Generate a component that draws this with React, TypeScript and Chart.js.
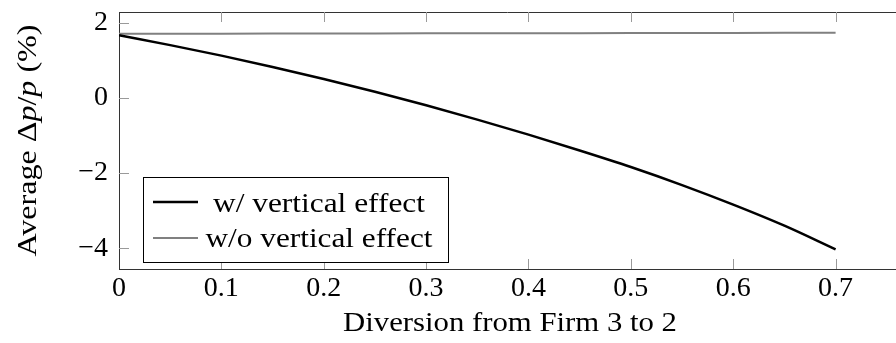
import React, { useEffect, useRef } from "react";
import { Chart, registerables } from "chart.js";

Chart.register(...registerables);

const diversion = [0, 0.05, 0.1, 0.15, 0.2, 0.25, 0.3, 0.35, 0.4, 0.45, 0.5, 0.55, 0.6, 0.65, 0.7];
const withVertical = [1.66, 1.4, 1.12, 0.82, 0.5, 0.16, -0.2, -0.58, -0.98, -1.4, -1.84, -2.32, -2.84, -3.4, -4.03];
const withoutVertical = [1.7, 1.702, 1.704, 1.706, 1.708, 1.71, 1.712, 1.714, 1.716, 1.718, 1.72, 1.722, 1.724, 1.726, 1.728];
const xTicks = [0, 0.1, 0.2, 0.3, 0.4, 0.5, 0.6, 0.7];
const yTicks = [-4, -2, 0, 2];
const seriesLabels = ["w/ vertical effect", "w/o vertical effect"];
const xTitle = "Diversion from Firm 3 to 2";

const FONT = "'Liberation Serif', 'DejaVu Serif', serif";

function drawFitted(ctx: CanvasRenderingContext2D, text: string, cx: number, base: number, target: number) {
  const w = ctx.measureText(text).width;
  const sx = target / w;
  ctx.save();
  ctx.translate(cx, base);
  ctx.scale(sx, 1);
  ctx.textAlign = "center";
  ctx.fillText(text, 0, 0);
  ctx.restore();
}

const decor = {
  id: "decor",
  afterDraw(chart: any) {
    const { ctx, chartArea, scales } = chart;
    const { left, top, right, bottom } = chartArea;
    const x = scales.x;
    const y = scales.y;
    ctx.save();
    // top border
    ctx.strokeStyle = "#333";
    ctx.lineWidth = 1;
    ctx.beginPath();
    ctx.moveTo(left, Math.round(top) + 0.5);
    ctx.lineTo(right, Math.round(top) + 0.5);
    ctx.stroke();
    // inward ticks
    ctx.strokeStyle = "#9a9a9a";
    ctx.beginPath();
    x.ticks.forEach((t: any) => {
      const px = Math.round(x.getPixelForValue(t.value)) + 0.5;
      if (t.value === 0) return;
      ctx.moveTo(px, bottom);
      ctx.lineTo(px, bottom - 10);
      ctx.moveTo(px, top);
      ctx.lineTo(px, top + 10);
    });
    y.ticks.forEach((t: any) => {
      const py = Math.round(y.getPixelForValue(t.value)) + 0.5;
      ctx.moveTo(left, py);
      ctx.lineTo(left + 10, py);
    });
    ctx.stroke();

    // legend
    const lx = 143.5, ly = 177.5, lw = 305, lh = 85;
    ctx.fillStyle = "#fff";
    ctx.fillRect(lx, ly, lw, lh);
    ctx.strokeStyle = "#000";
    ctx.lineWidth = 1;
    ctx.strokeRect(lx, ly, lw, lh);
    const ds = chart.data.datasets;
    const rows = [
      { yLine: 202, base: 211.7, width: 212 },
      { yLine: 238, base: 247, width: 227 },
    ];
    ctx.font = `28px ${FONT}`;
    ctx.textBaseline = "alphabetic";
    rows.forEach((r, i) => {
      ctx.strokeStyle = ds[i].borderColor;
      ctx.lineWidth = ds[i].borderWidth;
      ctx.beginPath();
      ctx.moveTo(153, r.yLine);
      ctx.lineTo(198, r.yLine);
      ctx.stroke();
      ctx.fillStyle = "#000";
      drawFitted(ctx, ds[i].label, 319, r.base, r.width);
    });

    // x title
    ctx.fillStyle = "#000";
    ctx.font = `28px ${FONT}`;
    drawFitted(ctx, xTitle, 510, 331, 334);

    // y title with italic p
    const segs = [
      { t: "Average ", it: false },
      { t: "\u0394", it: false },
      { t: "p", it: true },
      { t: "/", it: false },
      { t: "p", it: true },
      { t: " (%)", it: false },
    ];
    let total = 0;
    const widths = segs.map((s) => {
      ctx.font = `${s.it ? "italic " : ""}28px ${FONT}`;
      const w = ctx.measureText(s.t).width;
      total += w;
      return w;
    });
    const target = 232;
    const sx = target / total;
    ctx.translate(36, (top + bottom) / 2);
    ctx.rotate(-Math.PI / 2);
    ctx.scale(sx, 1);
    ctx.textAlign = "left";
    let cx = -total / 2;
    segs.forEach((s, i) => {
      ctx.font = `${s.it ? "italic " : ""}28px ${FONT}`;
      ctx.fillText(s.t, cx, 0);
      cx += widths[i];
    });
    ctx.restore();
  },
};

export default function App() {
  const ref = useRef<HTMLCanvasElement>(null);
  useEffect(() => {
    if (!ref.current) return;
    const fmt = (v: number) => (v < 0 ? "\u2212" + Math.abs(v) : String(v));
    const chart = new Chart(ref.current, {
      type: "line",
      data: {
        datasets: [
          {
            label: seriesLabels[0],
            data: diversion.map((d, i) => ({ x: d, y: withVertical[i] })),
            borderColor: "#000",
            borderWidth: 2.5,
            pointRadius: 0,
            cubicInterpolationMode: "monotone",
            fill: false,
          },
          {
            label: seriesLabels[1],
            data: diversion.map((d, i) => ({ x: d, y: withoutVertical[i] })),
            borderColor: "#808080",
            borderWidth: 2,
            pointRadius: 0,
            fill: false,
          },
        ],
      },
      options: {
        responsive: false,
        animation: false,
        layout: { padding: { top: 12, left: 0, right: 0, bottom: 0 } },
        plugins: { legend: { display: false }, tooltip: { enabled: false } },
        scales: {
          x: {
            type: "linear",
            min: 0,
            max: 0.759,
            grid: { display: false, drawTicks: false },
            border: { display: true, color: "#333", width: 1 },
            ticks: {
              padding: 3,
              color: "#000",
              font: { family: FONT, size: 28 },
              maxRotation: 0,
              callback: (v: any) => fmt(Number(v)),
            },
            afterBuildTicks: (s: any) => {
              s.ticks = xTicks.map((v) => ({ value: v }));
            },
            afterFit: (s: any) => {
              s.height = 74;
              s.paddingLeft = 0;
              s.paddingRight = 0;
            },
          },
          y: {
            min: -4.55,
            max: 2.28,
            grid: { display: false, drawTicks: false },
            border: { display: true, color: "#333", width: 1 },
            ticks: {
              padding: 11,
              color: "#000",
              font: { family: FONT, size: 28 },
              callback: (v: any) => fmt(Number(v)),
            },
            afterBuildTicks: (s: any) => {
              s.ticks = yTicks.map((v) => ({ value: v }));
            },
            afterFit: (s: any) => {
              s.width = 119;
              s.paddingTop = 0;
              s.paddingBottom = 0;
            },
          },
        },
      },
      plugins: [decor],
    });
    return () => chart.destroy();
  }, []);
  return (
    <div style={{ position: "absolute", left: 0, top: 0, width: 896, height: 343, overflow: "hidden", background: "#fff" }}>
      <canvas ref={ref} width={896} height={343} style={{ display: "block", width: 896, height: 343 }} />
    </div>
  );
}
